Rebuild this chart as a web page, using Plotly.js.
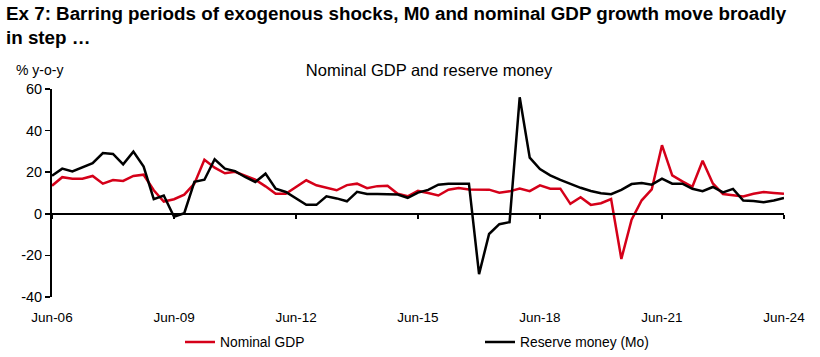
<!DOCTYPE html>
<html>
<head>
<meta charset="utf-8">
<script src="https://cdn.plot.ly/plotly-3.0.1.min.js"></script>
<style>html,body{margin:0;padding:0;background:#fff;}#chart{width:820px;height:357px;}</style>
</head>
<body>
<div id="chart"></div>
<script>
// Quarterly observations, Jun-06 to Jun-24
const startYear = 2006, startMonth = 6, nQuarters = 73;
const nominalGDP = [
  13.5, 17.6, 16.9, 16.9, 18.2, 14.5, 16.2, 15.8, 18.2, 18.8,
  11.3, 5.9, 7.0, 9.2, 14.5, 26.0, 22.2, 19.5, 20.2, 18.5,
  16.4, 13.2, 9.6, 9.6, 12.9, 16.1, 13.7, 12.5, 11.3, 13.8,
  14.5, 12.3, 13.3, 13.5, 9.6, 8.4, 11.0, 10.0, 8.8, 11.6,
  12.4, 11.7, 11.6, 11.6, 10.1, 10.8, 12.1, 10.9, 13.7, 12.1,
  12.1, 4.8, 8.0, 4.3, 5.1, 7.1, -21.7, -2.8, 6.5, 11.7,
  33.0, 18.5, 15.6, 13.0, 25.5, 14.6, 9.5, 8.9, 8.3, 9.6,
  10.5, 10.0, 9.6
];
const reserveMoney = [
  18.3, 21.7, 20.4, 22.4, 24.3, 29.2, 28.8, 23.8, 29.9, 22.7,
  7.0, 8.8, -1.4, 0.3, 15.4, 16.4, 26.2, 21.7, 20.5, 17.7,
  15.3, 19.3, 12.1, 10.5, 7.2, 4.3, 4.3, 8.4, 7.4, 6.0,
  10.6, 9.5, 9.5, 9.4, 9.3, 7.7, 10.2, 11.5, 14.0, 14.5,
  14.5, 14.5, -29.0, -9.7, -5.0, -4.0, 56.0, 27.0, 21.5, 18.5,
  16.3, 14.3, 12.5, 11.0, 9.9, 9.4, 11.5, 14.3, 14.8, 14.0,
  16.9, 14.5, 14.5, 12.0, 10.9, 12.9, 10.3, 12.0, 6.4, 6.2,
  5.6, 6.4, 7.6
];
const tickDates = ['2006-06-01','2009-06-01','2012-06-01','2015-06-01','2018-06-01','2021-06-01','2024-06-01'];
const tickLabels = ['Jun-06','Jun-09','Jun-12','Jun-15','Jun-18','Jun-21','Jun-24'];
const yTickVals = [-40, -20, 0, 20, 40, 60];
const yTickLabels = ['-40', '-20', '0', '20', '40', '60'];
const seriesNames = ['Nominal GDP', 'Reserve money (Mo)'];

const dates = [];
for (let i = 0; i < nQuarters; i++) {
  const m = startMonth - 1 + 3 * i;
  const y = startYear + Math.floor(m / 12);
  const mm = (m % 12) + 1;
  dates.push(y + '-' + (mm < 10 ? '0' + mm : mm) + '-01');
}

const FONT = '"Liberation Sans", Arial, sans-serif';
const RED = '#d50019';

const traces = [
  {x: dates, y: nominalGDP, name: seriesNames[0], type: 'scatter', mode: 'lines',
   line: {color: RED, width: 2.5}, xaxis: 'x', yaxis: 'y', legend: 'legend'},
  {x: dates, y: reserveMoney, name: seriesNames[1], type: 'scatter', mode: 'lines',
   line: {color: '#000000', width: 2.5}, xaxis: 'x2', yaxis: 'y', legend: 'legend2'}
];

const legendBase = {orientation: 'h', xanchor: 'left', yanchor: 'middle', y: -45/208,
                    font: {family: FONT, size: 13.8, color: '#000'}, bgcolor: 'rgba(0,0,0,0)',
                    borderwidth: 0};

const layout = {
  width: 820, height: 357,
  margin: {l: 52, r: 36, t: 89, b: 60, autoexpand: false},
  paper_bgcolor: '#ffffff', plot_bgcolor: '#ffffff',
  font: {family: FONT, size: 13, color: '#000'},
  title: {text: 'Nominal GDP and reserve money', x: 429/820, xref: 'container', xanchor: 'center',
          y: 1 - 70/357, yref: 'container', yanchor: 'middle',
          font: {family: FONT, size: 16.5, color: '#000'}},
  xaxis: {type: 'date', range: ['2006-06-01', '2024-06-01'], tickvals: tickDates, ticktext: tickLabels,
          showline: false, showgrid: false, zeroline: false, ticks: '', ticklabelstandoff: 10,
          tickfont: {family: FONT, size: 13.5}},
  xaxis2: {type: 'date', overlaying: 'x', matches: 'x', anchor: 'free', position: 0.4,
           showline: true, linecolor: '#000', linewidth: 2, ticks: 'outside', ticklen: 4, tickwidth: 1.5,
           tickcolor: '#000', tickvals: tickDates, showticklabels: false, showgrid: false, zeroline: false},
  yaxis: {range: [-40, 60], tickvals: yTickVals, ticktext: yTickLabels, showline: true, linecolor: '#000',
          linewidth: 2, ticks: 'outside', ticklen: 5, tickwidth: 1.5, tickcolor: '#000',
          showgrid: false, zeroline: false, tickfont: {family: FONT, size: 14.5}},
  showlegend: true,
  legend: Object.assign({}, legendBase, {x: (180 - 52) / 732}),
  legend2: Object.assign({}, legendBase, {x: (480 - 52) / 732}),
  annotations: [
    {text: '<b>Ex 7: Barring periods of exogenous shocks, M0 and nominal GDP growth move broadly<br>in step …</b>',
     xref: 'paper', yref: 'paper', x: -48/732, y: 1 + 88/208, xanchor: 'left', yanchor: 'top',
     align: 'left', showarrow: false, font: {family: FONT, size: 18.8, color: '#000'}},
    {text: '% y-o-y', xref: 'paper', yref: 'paper', x: -38/732, y: 1 + 19/208, xanchor: 'left', yanchor: 'middle',
     showarrow: false, font: {family: FONT, size: 14, color: '#000'}}
  ]
};

Plotly.newPlot('chart', traces, layout, {displayModeBar: false, staticPlot: true});
</script>
</body>
</html>
